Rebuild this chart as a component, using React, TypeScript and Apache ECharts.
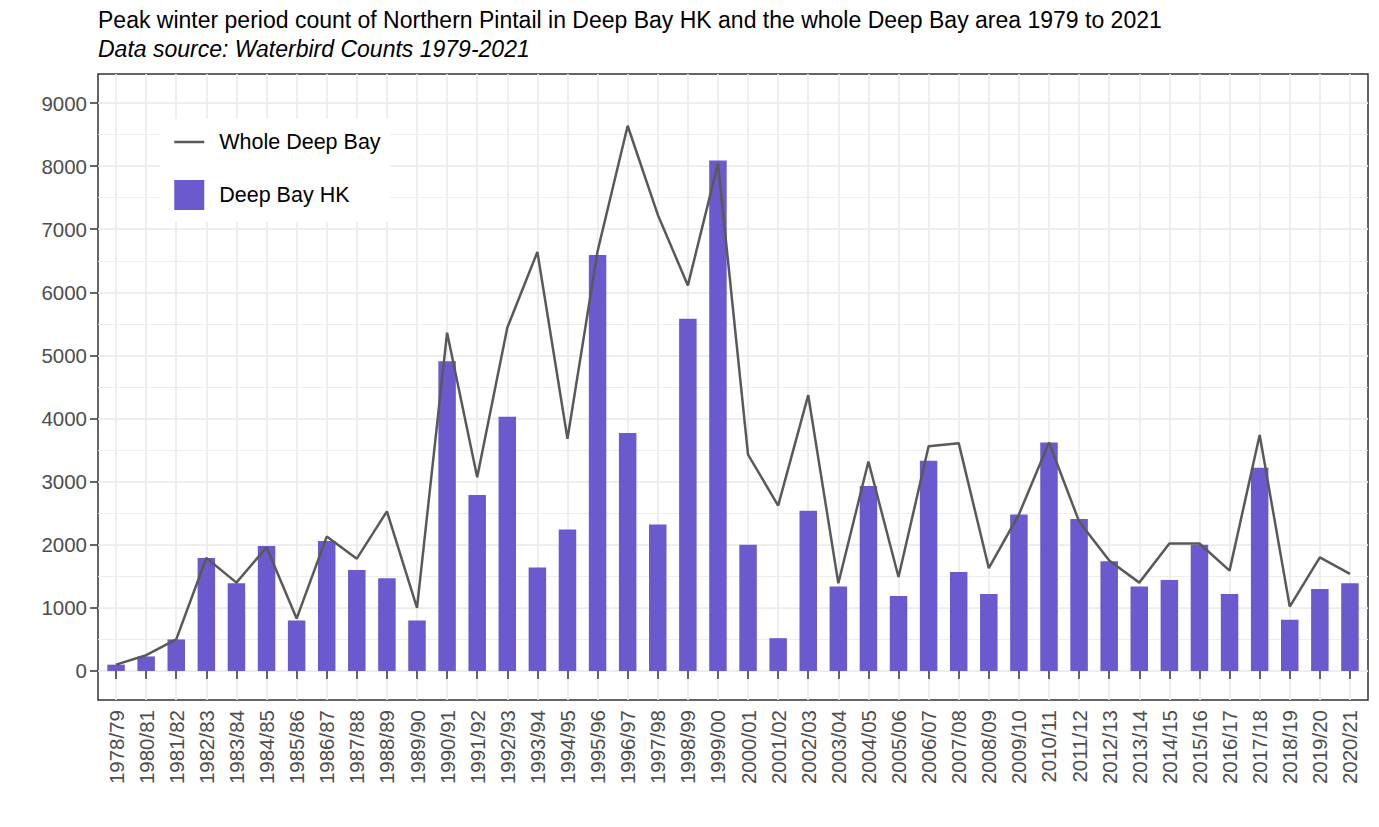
import React, { useEffect, useRef } from "react";
import * as echarts from "echarts";

// ---- data ----
const seasons = [
  "1978/79", "1980/81", "1981/82", "1982/83", "1983/84", "1984/85", "1985/86",
  "1986/87", "1987/88", "1988/89", "1989/90", "1990/91", "1991/92", "1992/93",
  "1993/94", "1994/95", "1995/96", "1996/97", "1997/98", "1998/99", "1999/00",
  "2000/01", "2001/02", "2002/03", "2003/04", "2004/05", "2005/06", "2006/07",
  "2007/08", "2008/09", "2009/10", "2010/11", "2011/12", "2012/13", "2013/14",
  "2014/15", "2015/16", "2016/17", "2017/18", "2018/19", "2019/20", "2020/21",
];

const deepBayHK = [
  100, 230, 500, 1790, 1390, 1980, 800, 2060, 1600, 1470,
  800, 4910, 2790, 4030, 1640, 2240, 6590, 3770, 2320, 5580,
  8090, 2000, 520, 2540, 1340, 2930, 1190, 3330, 1570, 1220,
  2480, 3620, 2410, 1740, 1340, 1440, 2000, 1220, 3220, 810,
  1300, 1390,
];

const wholeDeepBay = [
  100, 250, 500, 1790, 1400, 1960, 830, 2130, 1780, 2530,
  1000, 5360, 3070, 5440, 6640, 3680, 6650, 8640, 7230, 6110,
  8040, 3430, 2620, 4370, 1390, 3320, 1490, 3560, 3610, 1630,
  2480, 3620, 2370, 1750, 1400, 2020, 2020, 1590, 3740, 1020,
  1800, 1540,
];

const yTickMax = 9000;
const yMajorStep = 1000;
const yMinorStep = 500;

const TITLE =
  "Peak winter period count of Northern Pintail in Deep Bay HK and the whole Deep Bay area 1979 to 2021";
const SUBTITLE = "Data source: Waterbird Counts 1979-2021";
const LINE_NAME = "Whole Deep Bay";
const BAR_NAME = "Deep Bay HK";

// ---- layout ----
const W = 1379;
const H = 827;
const FONT = "'Liberation Sans', Arial, Helvetica, sans-serif";
const PANEL = { left: 98, top: 74, right: 1368, bottom: 700 };
const Y_MIN = -460;
const Y_MAX = 9460;
const X_EXPAND = 0.6;

const panelW = PANEL.right - PANEL.left;
const panelH = PANEL.bottom - PANEL.top;
const yPix = (v: number) => PANEL.top + ((Y_MAX - v) / (Y_MAX - Y_MIN)) * panelH;
const unit = panelW / (seasons.length - 1 + 2 * X_EXPAND);
const firstX = PANEL.left + X_EXPAND * unit;
const lastX = PANEL.right - X_EXPAND * unit;

const GRID_COLOR = "#ebebeb";
const AXIS_TEXT = "#4d4d4d";
const TICK_COLOR = "#333333";

function buildOption(): any {
  return {
    animation: false,
    backgroundColor: "#ffffff",
    textStyle: { fontFamily: FONT },
    grid: [
      {
        left: PANEL.left,
        top: PANEL.top,
        width: panelW,
        height: panelH,
        show: true,
        borderColor: "#333333",
        borderWidth: 1.5,
        backgroundColor: "transparent",
      },
      {
        left: firstX,
        top: PANEL.top,
        width: lastX - firstX,
        height: panelH,
      },
      {
        left: PANEL.left,
        top: yPix(yTickMax),
        width: panelW,
        height: yPix(0) - yPix(yTickMax),
      },
    ],
    xAxis: [
      {
        gridIndex: 1,
        type: "category",
        data: seasons,
        boundaryGap: false,
        axisLine: { show: false },
        axisTick: {
          show: true,
          interval: 0,
          length: 8,
          lineStyle: { color: TICK_COLOR, width: 1.5 },
        },
        axisLabel: {
          interval: 0,
          rotate: 90,
          fontSize: 20.5,
          fontFamily: FONT,
          color: AXIS_TEXT,
          margin: 10,
        },
        splitLine: {
          show: true,
          interval: 0,
          lineStyle: { color: GRID_COLOR, width: 1.7 },
        },
      },
      { gridIndex: 2, type: "value", show: false },
      { gridIndex: 0, type: "value", show: false },
    ],
    yAxis: [
      { gridIndex: 1, type: "value", min: Y_MIN, max: Y_MAX, show: false },
      {
        gridIndex: 2,
        type: "value",
        position: "left",
        min: 0,
        max: yTickMax,
        interval: yMinorStep,
        axisLine: { show: false },
        axisTick: { show: false },
        axisLabel: { show: false },
        splitLine: { show: true, lineStyle: { color: GRID_COLOR, width: 0.9 } },
      },
      {
        gridIndex: 2,
        type: "value",
        position: "left",
        min: 0,
        max: yTickMax,
        interval: yMajorStep,
        axisLine: { show: false },
        axisTick: {
          show: true,
          length: 8,
          lineStyle: { color: TICK_COLOR, width: 1.5 },
        },
        axisLabel: {
          fontSize: 20.5,
          fontFamily: FONT,
          color: AXIS_TEXT,
          margin: 11,
          formatter: (v: number) => String(v),
        },
        splitLine: { show: true, lineStyle: { color: GRID_COLOR, width: 1.7 } },
      },
      { gridIndex: 0, type: "value", show: false },
    ],
    legend: {
      orient: "vertical",
      left: 160,
      top: 119,
      padding: [11, 10, 12, 13],
      backgroundColor: "#ffffff",
      itemWidth: 30,
      itemHeight: 30,
      itemGap: 26,
      selectedMode: false,
      data: [
        {
          name: LINE_NAME,
          itemStyle: { color: "rgba(0,0,0,0)", opacity: 0, borderWidth: 0 },
          lineStyle: { width: 2.5 },
        },
        { name: BAR_NAME, icon: "rect" },
      ],
      textStyle: {
        fontSize: 21.5,
        fontFamily: FONT,
        color: "#000000",
        padding: [0, 0, 0, 10],
      },
    },
    graphic: [
      {
        type: "text",
        x: PANEL.left,
        y: 20,
        style: {
          text: TITLE,
          fontSize: 23,
          fontFamily: FONT,
          fill: "#000000",
          verticalAlign: "middle",
        },
      },
      {
        type: "text",
        x: PANEL.left,
        y: 49,
        style: {
          text: SUBTITLE,
          fontSize: 23,
          fontStyle: "italic",
          fontFamily: FONT,
          fill: "#000000",
          verticalAlign: "middle",
        },
      },
    ],
    series: [
      {
        type: "bar",
        name: BAR_NAME,
        xAxisIndex: 0,
        yAxisIndex: 0,
        data: deepBayHK,
        barWidth: 17.5,
        clip: false,
        itemStyle: { color: "#6a5acd" },
        z: 2,
      },
      {
        type: "line",
        name: LINE_NAME,
        xAxisIndex: 0,
        yAxisIndex: 0,
        data: wholeDeepBay,
        symbol: "none",
        showSymbol: false,
        clip: false,
        lineStyle: { color: "#595959", width: 2.5 },
        itemStyle: { color: "#595959" },
        z: 3,
      },
    ],
  };
}

export default function App() {
  const ref = useRef<HTMLDivElement>(null);
  useEffect(() => {
    if (!ref.current) return;
    const chart = echarts.init(ref.current, null, {
      renderer: "svg",
      width: W,
      height: H,
    });
    chart.setOption(buildOption());
    return () => {
      chart.dispose();
    };
  }, []);
  return (
    <div
      ref={ref}
      style={{
        position: "absolute",
        left: 0,
        top: 0,
        width: W,
        height: H,
        background: "#ffffff",
      }}
    />
  );
}
